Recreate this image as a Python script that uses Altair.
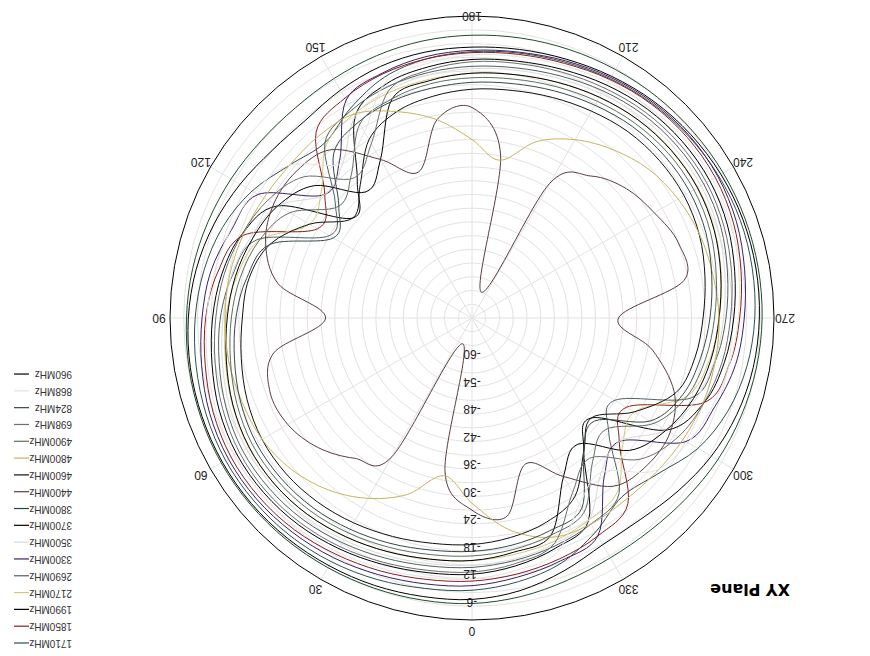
import altair as alt
import pandas as pd

# ---------------- data ----------------
angles = list(range(0, 360, 10))

series_names = ["1710MHz", "1850MHz", "1990MHz", "2170MHz", "2690MHz", "3300MHz",
                "3500MHz", "3700MHz", "3800MHz", "4400MHz", "4600MHz", "4800MHz",
                "4900MHz", "698MHz", "824MHz", "868MHz", "960MHz"]
series_colors = ["#2F5050", "#8B1C1C", "#000000", "#D6C878", "#506060", "#3A1F66",
                 "#D9D9D9", "#000000", "#1E4D2B", "#5A3C3C", "#111111", "#C8B45A",
                 "#5E6E5E", "#6E6E6E", "#384848", "#E3E3E3", "#000000"]

g1710 = [-6.5, -6.0, -5.2, -4.5, -4.0, -3.8, -3.8, -4.2, -4.8, -5.5, -6.5, -8.0, -10.5, -14, -16, -13, -10, -8.5,
         -7.8, -7.2, -6.5, -5.6, -4.8, -4.2, -3.8, -3.6, -3.8, -4.2, -5.0, -6.5, -9.0, -13, -15, -12, -9, -7.5]
g1850 = [-8.5, -8, -7.2, -6.4, -5.6, -5.2, -5.2, -5.8, -6.8, -7.8, -9.5, -13, -27, -24, -13, -10.5, -9.2, -8.5,
         -8, -7.5, -6.8, -5.8, -5, -4.6, -4.6, -5.2, -6.3, -7.5, -8.8, -12, -27, -24, -13, -11, -10, -9.2]
g1990 = [-10, -9.5, -8.7, -7.8, -7, -6.6, -6.6, -7.2, -8.3, -9.3, -10.5, -12.5, -17, -32, -27, -15, -11.5, -10.3,
         -9.5, -9, -8.2, -7.2, -6.4, -6, -6, -6.6, -7.7, -8.8, -10, -12, -17, -32, -28, -15, -12.5, -11]
g2170 = [-13, -12.5, -11.7, -10.8, -10, -9.6, -9.6, -10.3, -11.3, -12.2, -13.8, -16.5, -25, -23, -16.5, -14.5, -13.5, -13,
         -12.5, -12, -11.2, -10.3, -9.5, -9, -9, -9.6, -10.7, -12, -13.3, -16, -25, -23, -16.5, -15, -14, -13.5]
g2690 = [-11.5, -11, -10.2, -9.3, -8.5, -8.1, -8.1, -8.8, -9.9, -11, -12.8, -16, -30, -27, -16, -13.5, -12.2, -11.5,
         -11, -10.5, -9.7, -8.7, -7.9, -7.5, -7.5, -8.1, -9.3, -10.5, -12, -15, -30, -27, -16, -14, -13, -12.2]
g3300 = [-7.5, -7, -6.3, -5.5, -4.9, -4.5, -4.5, -5, -6, -7, -8, -10, -12, -24, -21, -11, -9, -8,
         -7.5, -7, -6.2, -5.3, -4.5, -4, -4, -4.5, -5.5, -6.5, -7.5, -9.5, -12, -24, -21, -11, -9.5, -8.5]
g3500 = [-12, -11.5, -10.8, -10, -9.3, -9, -9, -9.6, -10.6, -11.6, -12.6, -14.5, -17, -24, -22, -15, -13, -12,
         -11.5, -11, -10.3, -9.4, -8.6, -8.2, -8.2, -8.8, -9.9, -11, -12.2, -14, -17, -24, -22, -15, -13.5, -12.5]
g3700 = [-13, -12.5, -11.7, -10.8, -10, -9.6, -9.7, -10.4, -11.5, -12.5, -13.5, -15, -17, -21, -30, -26, -15, -13.3,
         -12.5, -12, -11.2, -10.3, -9.5, -9.1, -9.1, -9.7, -10.8, -12, -13, -14.5, -17, -21, -30, -26, -15.5, -14]
g3800 = [-3.6, -3.4, -3.2, -3.0, -2.8, -2.7, -2.7, -2.9, -3.2, -3.6, -4.0, -4.6, -5.2, -5.8, -6.0, -5.6, -5.0, -4.5,
         -4.2, -3.9, -3.6, -3.3, -3.0, -2.8, -2.6, -2.5, -2.5, -2.6, -2.9, -3.4, -4.0, -4.8, -5.4, -5.5, -5.0, -4.2]
g4400 = [-24, -32, -60, -31, -26, -22, -19.5, -19, -22, -34, -23, -18, -16, -16, -18, -26, -32, -22,
         -20, -30, -60, -32, -25.5, -22, -20, -18, -19, -34, -26, -19, -16, -16, -18, -26, -32, -22]
g4600 = [-16.5, -16, -15.2, -14.3, -13.5, -13, -13, -13.7, -14.8, -15.8, -16.5, -19, -25, -32, -28, -21, -18, -16.8,
         -16, -15.5, -14.7, -13.8, -12.9, -12.5, -12.5, -13.1, -14.3, -15.5, -16.5, -18.5, -25, -32, -28, -21, -18.5, -17.3]
g4800 = [-25.5, -31, -25, -20.5, -17, -14.5, -13, -12.5, -12, -12, -12.2, -12.8, -13.5, -14, -14, -14.5, -18, -22,
         -27, -31, -25, -21, -18, -15.5, -14, -13, -12.5, -12, -12, -12.2, -12.8, -13.5, -14, -14, -15, -19]
g4900 = [-14, -13.5, -12.7, -11.8, -11, -10.6, -10.6, -11.3, -12.4, -13.4, -14.6, -16.5, -20, -28, -25, -17, -15, -14,
         -13.5, -13, -12.2, -11.3, -10.5, -10, -10, -10.6, -11.8, -13, -14.2, -16, -20, -28, -25, -17, -15.5, -14.6]
g698 = [-10.5, -10, -9.2, -8.3, -7.6, -7.2, -7.3, -8, -9, -10, -11, -12.5, -14.5, -18, -26, -22, -13, -11,
        -10, -9.5, -8.8, -8, -7.2, -6.8, -6.8, -7.4, -8.4, -9.5, -10.5, -12, -14, -18, -26, -22, -13.5, -11.5]
g824 = [-15, -14.5, -13.6, -12.7, -11.9, -11.5, -11.5, -12.2, -13.3, -14.4, -16, -19, -31, -28, -19, -16.5, -15.5, -15,
        -14.5, -14, -13.2, -12.3, -11.4, -11, -11, -11.6, -12.8, -14, -15.3, -17, -21, -31, -28, -18, -16.5, -15.6]
g868 = [-9, -8.5, -7.8, -7, -6.3, -6, -6, -6.5, -7.3, -8, -8.8, -9.8, -11, -14, -22, -19, -11, -9.5,
        -8.5, -8, -7.3, -6.5, -5.8, -5.3, -5.3, -5.8, -6.8, -7.8, -8.8, -10, -11.5, -14, -22, -19, -11.5, -10]
g960 = [-4.5, -4.2, -3.8, -3.5, -3.2, -3.0, -3.0, -3.2, -3.5, -4.0, -4.8, -6.0, -7.5, -9.0, -9.5, -8.5, -7.5, -7.0,
        -6.8, -6.4, -5.8, -5.0, -4.2, -3.6, -3.2, -3.0, -3.0, -3.2, -3.6, -4.4, -5.6, -7.2, -8.6, -8.8, -7.2, -5.5]

series_values = [g1710, g1850, g1990, g2170, g2690, g3300, g3500, g3700, g3800, g4400,
                 g4600, g4800, g4900, g698, g824, g868, g960]

radial_min = -66
ring_levels = list(range(-63, 0, 3))
outer_level = [0]
spoke_angles = list(range(0, 360, 30))
angle_ticks = list(range(0, 360, 30))
radial_ticks = [-6, -12, -18, -24, -30, -36, -42, -48, -54, -60]
title_text = "XY Plane"

# ---------------- tables ----------------
rows = []
for name, vals in zip(series_names, series_values):
    for a, v in zip(angles, vals):
        rows.append({"series": name, "angle": a, "gain": v})
df = pd.DataFrame(rows)

circle_angles = list(range(0, 361, 5))
df_rings = pd.DataFrame([{"level": l, "angle": a} for l in ring_levels for a in circle_angles])
df_outer = pd.DataFrame([{"level": l, "angle": a} for l in outer_level for a in circle_angles])
df_spokes = pd.DataFrame({"angle": spoke_angles})
df_atick = pd.DataFrame({"angle": angle_ticks, "label": [str(a) for a in angle_ticks]})
df_rtick = pd.DataFrame({"level": radial_ticks, "label": [str(t) for t in radial_ticks]})
df_leg = pd.DataFrame({"series": series_names, "slot": list(range(len(series_names)))})
df_title = pd.DataFrame({"label": [title_text]})

# ---------------- geometry (pixel mapping) ----------------
K = 302 / 66.0          # px per dB
CX, CY = 472, 318       # page centre of the polar plot
W, H = 854, 640
xdom = [(8 - CX) / K, (8 + W - CX) / K]
ydom = [(CY - 8 - H) / K, (CY - 8) / K]
xs = alt.Scale(domain=xdom, nice=False, zero=False)
ys = alt.Scale(domain=ydom, nice=False, zero=False)
cs = alt.Scale(domain=series_names, range=series_colors)


def X(f):
    return alt.X(f, type="quantitative", scale=xs, axis=None)


def Y(f):
    return alt.Y(f, type="quantitative", scale=ys, axis=None)


rings = alt.Chart(df_rings).transform_calculate(
    r=f"datum.level - ({radial_min})",
    px="-datum.r * sin(datum.angle * PI / 180)",
    py="-datum.r * cos(datum.angle * PI / 180)",
).mark_line(color="#E2E2E2", strokeWidth=1).encode(
    x=X("px"), y=Y("py"), detail="level:N", order="angle:Q")

spokes = alt.Chart(df_spokes).transform_calculate(
    x0="0", y0="0",
    px=f"-({-radial_min}) * sin(datum.angle * PI / 180)",
    py=f"-({-radial_min}) * cos(datum.angle * PI / 180)",
).mark_rule(color="#E2E2E2", strokeWidth=1).encode(
    x=X("x0"), y=Y("y0"), x2="px:Q", y2="py:Q")

outer = alt.Chart(df_outer).transform_calculate(
    r=f"datum.level - ({radial_min})",
    px="-datum.r * sin(datum.angle * PI / 180)",
    py="-datum.r * cos(datum.angle * PI / 180)",
).mark_line(color="#000000", strokeWidth=1).encode(
    x=X("px"), y=Y("py"), detail="level:N", order="angle:Q")

curves = alt.Chart(df).transform_calculate(
    r=f"max(datum.gain - ({radial_min}), 0)",
    px="-datum.r * sin(datum.angle * PI / 180)",
    py="-datum.r * cos(datum.angle * PI / 180)",
).mark_line(interpolate="cardinal-closed", tension=0, strokeWidth=1).encode(
    x=X("px"), y=Y("py"),
    color=alt.Color("series:N", scale=cs, legend=None),
    detail="series:N", order="angle:Q")

atext = alt.Chart(df_atick).transform_calculate(
    r=f"{313 / K}",
    px="-datum.r * sin(datum.angle * PI / 180)",
    py=f"min(-datum.r * cos(datum.angle * PI / 180), {(CY - 15.5) / K})",
).mark_text(angle=180, align="center", baseline="middle", font="Liberation Sans",
            fontSize=12, color="#222222").encode(x=X("px"), y=Y("py"), text="label:N")

rtext = alt.Chart(df_rtick).transform_calculate(
    px="0",
    py=f"-(datum.level - ({radial_min}) + {9 / K})",
).mark_text(angle=180, align="center", baseline="middle", font="Liberation Sans",
            fontSize=12, color="#222222").encode(x=X("px"), y=Y("py"), text="label:N")

leg_lines = alt.Chart(df_leg).transform_calculate(
    lx1=f"{(14 - CX) / K}", lx2=f"{(29 - CX) / K}",
    ly=f"({CY} - (643 - datum.slot * 16.81)) / {K}",
).mark_rule(strokeWidth=1.2).encode(
    x=X("lx1"), x2="lx2:Q", y=Y("ly"),
    color=alt.Color("series:N", scale=cs, legend=None))

leg_text = alt.Chart(df_leg).transform_calculate(
    tx=f"{(72 - CX) / K}",
    ly=f"({CY} - (643 - datum.slot * 16.81)) / {K}",
).mark_text(angle=180, align="left", baseline="middle", font="Liberation Sans",
            fontSize=10, color="#333333").encode(x=X("tx"), y=Y("ly"), text="series:N")

title = alt.Chart(df_title).transform_calculate(
    tx=f"{(750 - CX) / K}", ty=f"{(CY - 589) / K}",
).mark_text(angle=180, align="center", baseline="middle", font="DejaVu Sans",
            fontSize=16, fontWeight="bold", color="#000000").encode(
    x=X("tx"), y=Y("ty"), text="label:N")

chart = alt.layer(rings, spokes, curves, outer, atext, rtext, leg_lines, leg_text, title).properties(
    width=W, height=H, padding=0, autosize="none", background="white"
).configure_view(stroke=None)

chart.save("out.html", embed_options={"renderer": "svg", "actions": False})
